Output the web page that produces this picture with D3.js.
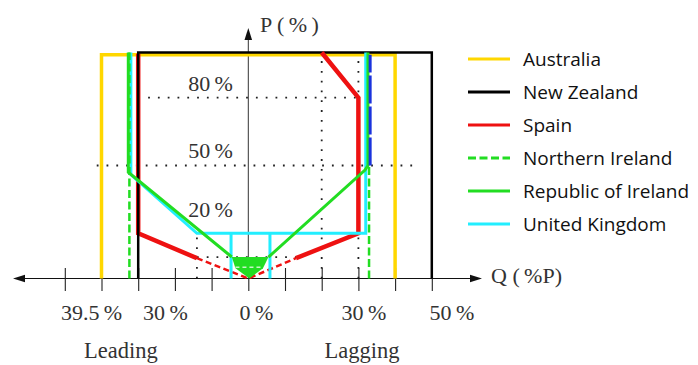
<!DOCTYPE html>
<html><head><meta charset="utf-8">
<script src="https://cdn.jsdelivr.net/npm/d3@7"></script>
<style>body{margin:0;background:#fff}svg{display:block}</style>
</head><body><svg id="c" width="698" height="365"></svg>
<script>
// ---- data (Q in %P, P in %) ----
const categories = ["Australia","New Zealand","Spain","Northern Ireland","Republic of Ireland","United Kingdom"];
const qTicks = [-50,-40,-30,-20,-10,0,10,20,30,40,50];
const qTickLabels = ["39.5\u2009%","30\u2009%","0\u2009%","30\u2009%","50\u2009%"];
const qTickLabelAt = [-42.7,-22.6,2.2,31.5,55.5];
const pLabels = ["80\u2009%","50\u2009%","20\u2009%"];
const pLabelAt = [83,53.3,27.2];
const australia = [[-40,0],[-40,99],[40,99],[40,0]];
const newZealand = [[-30,0],[-30,100],[50,100],[50,0]];
const spainLeft = [[-14,9],[-30,20],[-30,99.5]];
const spainRight = [[20,100],[30,80],[30,20],[13,9]];
const spainDashed = [[-14,9],[0,0],[13,9]];
const niLeft = [[-32.4,0],[-32.4,100]];
const niRight = [[32.9,0],[32.9,50]];
const niInner = [[-3.5,5],[4,5]];
const roiLeft = [[-32.7,100],[-32.7,47],[-4.5,9.5]];
const roiRight = [[5.5,9.5],[31.8,48],[32.6,50],[32.6,100]];
const roiFill = [[-4.5,9.5],[5.5,9.5],[4,4.5],[0.3,0],[-3.5,4.5]];
const uk = [[-32,100],[-32,46],[-14,20],[32,20],[32,100]];
const ukStemQ = [-4.7,5.9];
const ukStemP = [20,0];
const blueLine = [[33.2,50],[33.2,99]];
const guideH = [[80,-27.3,29.5],[50,-41.3,46.3],[9.5,-14,13.4]];
const guideV = [[20,0,100],[30,0,100],[-14,0,20]];

// ---- styles ----
const col = {yellow:"#ffd700",black:"#000",red:"#ee1111",green:"#22dd22",cyan:"#22eeff",blue:"#1a33dd"};
const legendColors = [col.yellow,col.black,col.red,col.green,col.green,col.cyan];
const legendDash = [null,null,null,"8,3.5",null,null];

const svg = d3.select("#c");
const x = d3.scaleLinear().domain([-50,50]).range([64.8,431.8]);
const y = d3.scaleLinear().domain([0,100]).range([278.5,52.5]);
const line = d3.line().x(d=>x(d[0])).y(d=>y(d[1]));
const serif = "'Liberation Serif','Times New Roman',serif";

// dotted guides
guideH.forEach(g=>svg.append("line").attr("x1",x(g[1])).attr("x2",x(g[2])).attr("y1",y(g[0])).attr("y2",y(g[0]))
  .attr("stroke","#222").attr("stroke-width",1.8).attr("stroke-dasharray","1.8,8"));
guideV.forEach(g=>svg.append("line").attr("x1",x(g[0])).attr("x2",x(g[0])).attr("y1",y(g[1])).attr("y2",y(g[2]))
  .attr("stroke","#222").attr("stroke-width",1.8).attr("stroke-dasharray","1.8,8"));

// axes
const y0 = y(0);
svg.append("line").attr("x1",20).attr("x2",474).attr("y1",y0).attr("y2",y0).attr("stroke","#111").attr("stroke-width",1.2);
svg.append("path").attr("d",`M13,${y0}L25,${y0-3.8}L25,${y0+3.8}Z`).attr("fill","#111");
svg.append("path").attr("d",`M482,${y0}L470,${y0-3.8}L470,${y0+3.8}Z`).attr("fill","#111");
const ax = d3.axisBottom(x).tickValues(qTicks).tickSize(23).tickFormat("");
const axg = svg.append("g").attr("transform",`translate(0,${y0-10.5})`).call(ax);
axg.select(".domain").remove();
axg.selectAll(".tick line").attr("stroke","#222").attr("stroke-width",1.1);
svg.append("line").attr("x1",x(0)).attr("x2",x(0)).attr("y1",y0).attr("y2",38).attr("stroke","#333").attr("stroke-width",1);
svg.append("path").attr("d",`M${x(0)},28L${x(0)-3.8},40L${x(0)+3.8},40Z`).attr("fill","#111");

// tick labels
qTickLabels.forEach((t,i)=>svg.append("text").attr("x",x(qTickLabelAt[i])).attr("y",320).attr("text-anchor","middle")
  .attr("font-family",serif).attr("font-size",22).attr("fill","#333").text(t));
pLabels.forEach((t,i)=>svg.append("text").attr("x",x(-4.2)).attr("y",y(pLabelAt[i])).attr("text-anchor","end")
  .attr("font-family",serif).attr("font-size",22).attr("fill","#333").text(t));
svg.append("text").attr("x",260).attr("y",32).attr("font-family",serif).attr("font-size",22).attr("fill","#333").text("P (\u2009%\u2009)");
svg.append("text").attr("x",491).attr("y",283).attr("font-family",serif).attr("font-size",22).attr("fill","#333").text("Q (\u2009%P)");
svg.append("text").attr("x",x(-34.7)).attr("y",358).attr("text-anchor","middle").attr("font-family",serif).attr("font-size",22.5).attr("fill","#333").text("Leading");
svg.append("text").attr("x",x(31)).attr("y",358).attr("text-anchor","middle").attr("font-family",serif).attr("font-size",22.5).attr("fill","#333").text("Lagging");

function draw(pts,c,w,dash){
  const p = svg.append("path").attr("d",line(pts)).attr("fill","none").attr("stroke",c).attr("stroke-width",w)
    .attr("stroke-linejoin","miter");
  if(dash) p.attr("stroke-dasharray",dash);
  return p;
}
// series
draw(australia,col.yellow,3.5);
draw(spainLeft,col.red,4.5);
draw(newZealand,col.black,2.5);
draw(spainRight,col.red,4.5);
draw(spainDashed,col.red,2.5,"6,3.5");
draw(uk,col.cyan,3);
ukStemQ.forEach(q=>draw([[q,ukStemP[0]],[q,ukStemP[1]]],col.cyan,3));
svg.append("path").attr("d",line(roiFill)+"Z").attr("fill",col.green);
draw(niInner,"#c8f5c8",1.5,"4,3");
draw(roiLeft,col.green,3);
draw(roiRight,col.green,3);
draw(niLeft,col.green,2.5,"8,3.5");
draw(niRight,col.green,2.5,"8,3.5");
draw(blueLine,col.blue,3,"28,3");

// legend
const lg = svg.append("g");
categories.forEach((c,i)=>{
  const yy = 59 + i*33;
  const l = lg.append("line").attr("x1",468).attr("x2",510).attr("y1",yy).attr("y2",yy)
    .attr("stroke",legendColors[i]).attr("stroke-width",3);
  if(legendDash[i]) l.attr("stroke-dasharray",legendDash[i]);
  lg.append("text").attr("x",523).attr("y",yy).attr("dy","0.36em").attr("font-family","'Open Sans',Lato,sans-serif")
    .attr("font-size",19).attr("fill","#111").text(c);
});
</script></body></html>
